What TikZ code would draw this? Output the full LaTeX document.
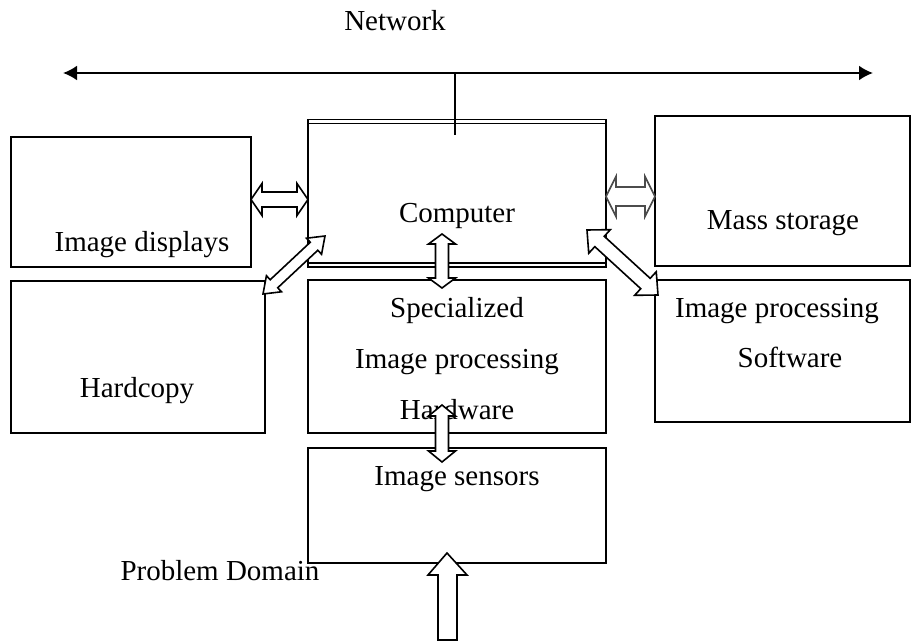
\documentclass[tikz,border=0pt]{standalone}
\usepackage{fontspec}
\setmainfont{Liberation Serif}
\usetikzlibrary{calc,arrows.meta,positioning}

\tikzset{
  box/.style={draw, line width=0.8pt, inner sep=0pt},
  lbl/.style={anchor=base, inner sep=0pt, font=\fontsize{14.5}{17}\selectfont},
  block/.style={draw, line width=0.8pt, fill=white, line join=miter},
}

% hollow double headed arrow: [opts]{from}{to}{head length}{head half width}{shaft half width}
\newcommand{\twowayarrow}[6][]{%
  \coordinate (ha) at ($(#2)!#4!(#3)$);
  \coordinate (hb) at ($(#3)!#4!(#2)$);
  \draw[block,#1] (#2) -- ($(ha)!#5!90:(#3)$) -- ($(ha)!#6!90:(#3)$)
    -- ($(hb)!#6!-90:(#2)$) -- ($(hb)!#5!-90:(#2)$) -- (#3)
    -- ($(hb)!#5!90:(#2)$) -- ($(hb)!#6!90:(#2)$)
    -- ($(ha)!#6!-90:(#3)$) -- ($(ha)!#5!-90:(#3)$) -- cycle;
}

\begin{document}
\begin{tikzpicture}[x=0.5pt, y=-0.5pt]
        \useasboundingbox (0,0) rectangle (912,642);
        % Boxes
        \node[box, minimum width=120pt, minimum height=65pt] (disp) at (131,202) {};
        \node[box, minimum width=127pt, minimum height=76pt] (hard) at (138,357) {};
        \node[box, minimum width=149pt, minimum height=73.75pt] (comp) at (457,193.25) {};
        \node[box, minimum width=149pt, minimum height=76.5pt] (spec) at (457,356.5) {};
        \node[box, minimum width=149pt, minimum height=57.5pt] (sens) at (457,505.5) {};
        \node[box, minimum width=127.5pt, minimum height=75pt] (mass) at (782.5,191) {};
        \node[box, minimum width=127.5pt, minimum height=71pt] (soft) at (782.5,351) {};
        % Double rules of the computer box
        \draw[line width=0.8pt] ([yshift=-2.5pt]comp.north west) -- ([yshift=-2.5pt]comp.north east);
        \draw[line width=0.8pt] ([yshift=2.5pt]comp.south west) -- ([yshift=2.5pt]comp.south east);
        % Network bus
        \coordinate (netL) at (63,73);
        \coordinate (netR) at (873,73);
        \coordinate (netC) at (455,73);
        \draw[{Latex[length=7pt,width=7.5pt]}-{Latex[length=7pt,width=7.5pt]}, line width=1pt] (netL) -- (netR);
        \draw[line width=0.6pt] (netC) -- (netC |- 0,135);
        % Labels
        \node[lbl] (tnet) at (395,31) {Network};
        \node[lbl] (tcomp) at (457,223) {Computer};
        \node[lbl] (tdisp) at (142,252) {Image displays};
        \node[lbl] (thard) at (137,397) {Hardcopy};
        \node[lbl] (tspec1) at (457,318) {Specialized};
        \node[lbl] (tspec2) at (457,369) {Image processing};
        \node[lbl] (tspec3) at (457,419) {Hardware};
        \node[lbl] (tsens) at (457,485) {Image sensors};
        \node[lbl] (tmass) at (783,230) {Mass storage};
        \node[lbl] (tsoft1) at (777,318) {Image processing};
        \node[lbl] (tsoft2) at (790,368) {Software};
        \node[lbl] (tprob) at (220,580) {Problem Domain};
        % Arrow end points
        \coordinate (dispR) at (251,199.5);
        \coordinate (compL) at (308,199.5);
        \coordinate (compR) at (606,196.5);
        \coordinate (massL) at (655,196.5);
        \coordinate (compB) at (442,234);
        \coordinate (specT) at (442,288);
        \coordinate (specB) at (442,405);
        \coordinate (sensT) at (442,462);
        \coordinate (hardC) at (263,294);
        \coordinate (compC) at (325,236);
        \coordinate (compD) at (587,230);
        \coordinate (softC) at (658,295);
        % Hollow arrows between the units
        \twowayarrow{dispR}{compL}{5.5pt}{8pt}{3.75pt}
        \twowayarrow[draw=black!70]{compR}{massL}{5pt}{10pt}{4.75pt}
        \twowayarrow{compB}{specT}{5pt}{6.75pt}{3.25pt}
        \twowayarrow{specB}{sensT}{5.5pt}{6.75pt}{3.25pt}
        \twowayarrow{hardC}{compC}{7.5pt}{5.5pt}{2.75pt}
        \twowayarrow{compD}{softC}{8.5pt}{8pt}{3.5pt}
        % Input from the problem domain
        \coordinate (sensIn) at (447,553);
        \draw[block] (sensIn) -- ++(20,22) -- ++(-10,0) -- ++(0,65) -- ++(-19,0)
          -- ++(0,-65) -- ++(-10,0) -- cycle;
\end{tikzpicture}
\end{document}
